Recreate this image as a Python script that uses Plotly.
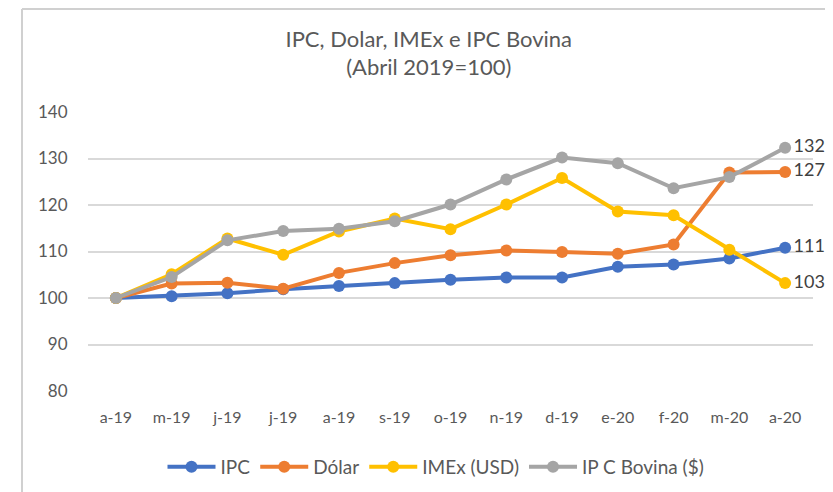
import plotly.graph_objects as go

categories = ["a-19", "m-19", "j-19", "j-19 ", "a-19 ", "s-19", "o-19", "n-19", "d-19", "e-20", "f-20", "m-20", "a-20"]
tick_labels = ["a-19", "m-19", "j-19", "j-19", "a-19", "s-19", "o-19", "n-19", "d-19", "e-20", "f-20", "m-20", "a-20"]

ipc = [100, 100.4, 101.0, 101.9, 102.6, 103.2, 103.9, 104.4, 104.4, 106.7, 107.2, 108.5, 110.8]
dolar = [100, 103.1, 103.3, 102.0, 105.4, 107.5, 109.2, 110.2, 109.9, 109.5, 111.5, 127.0, 127.1]
imex = [100, 105.1, 112.8, 109.3, 114.3, 117.1, 114.8, 120.1, 125.8, 118.6, 117.8, 110.4, 103.2]
bovina = [100, 104.5, 112.4, 114.4, 114.9, 116.5, 120.1, 125.5, 130.2, 129.0, 123.6, 126.0, 132.3]

names = ["IPC", "Dólar", "IMEx (USD)", "IP C Bovina ($)"]
colors = ["#4472C4", "#ED7D31", "#FFC000", "#A5A5A5"]
series = [ipc, dolar, imex, bovina]

FONT = "Lato, 'Open Sans', sans-serif"

# the page body adds an 8px offset, so the figure is sized to fill the rest
W, H = 825, 484
L, R, T, B = 80, 20, 104, 101
PW, PH = W - L - R, H - T - B

fig = go.Figure()
for name, col, vals in zip(names, colors, series):
    labels = [""] * (len(vals) - 1) + [f"{vals[-1]:.0f}"]
    fig.add_trace(go.Scatter(
        x=categories, y=vals, name=name, mode="lines+markers+text",
        line=dict(color=col, width=4),
        marker=dict(color=col, size=12),
        text=labels, textposition="middle right",
        textfont=dict(size=18, color="#404040", family=FONT),
        cliponaxis=False,
    ))

fig.update_layout(
    width=W, height=H,
    paper_bgcolor="white", plot_bgcolor="white",
    margin=dict(l=L, r=R, t=T, b=B, autoexpand=False),
    title=dict(
        text="IPC, Dolar, IMEx e IPC Bovina<br>(Abril 2019=100)",
        x=0.51, xanchor="center", y=0.92, yanchor="top",
        font=dict(size=22, color="#595959", family=FONT),
    ),
    font=dict(family=FONT, color="#595959", size=16),
    showlegend=True,
    legend=dict(
        orientation="h", x=0.48, xanchor="center", y=-0.272, yanchor="middle",
        font=dict(size=19, color="#595959", family=FONT),
        itemwidth=48, traceorder="normal",
    ),
    xaxis=dict(
        tickmode="array", tickvals=categories, ticktext=tick_labels,
        range=[-0.5, 12.5], automargin=False,
        showgrid=False, showline=False, zeroline=False,
        ticks="outside", ticklen=12, tickcolor="rgba(0,0,0,0)",
        tickfont=dict(size=16, color="#595959"),
    ),
    yaxis=dict(
        range=[80, 140], tickvals=[80, 90, 100, 110, 120, 130, 140],
        automargin=False,
        showgrid=True, gridcolor="#D9D9D9", gridwidth=1.5,
        zeroline=False, showline=False,
        ticks="outside", ticklen=16, tickcolor="rgba(0,0,0,0)",
        tickfont=dict(size=17, color="#595959"),
    ),
    shapes=[
        dict(type="line", xref="paper", yref="paper",
             x0=(14 - L) / PW, x1=(14 - L) / PW,
             y0=(H - B - H) / PH, y1=(H - B - 1) / PH,
             line=dict(color="#D0D0D0", width=2)),
        dict(type="line", xref="paper", yref="paper",
             x0=(14 - L) / PW, x1=(W - L) / PW,
             y0=(H - B - 1) / PH, y1=(H - B - 1) / PH,
             line=dict(color="#D0D0D0", width=2)),
    ],
)

fig.write_html("out.html")
